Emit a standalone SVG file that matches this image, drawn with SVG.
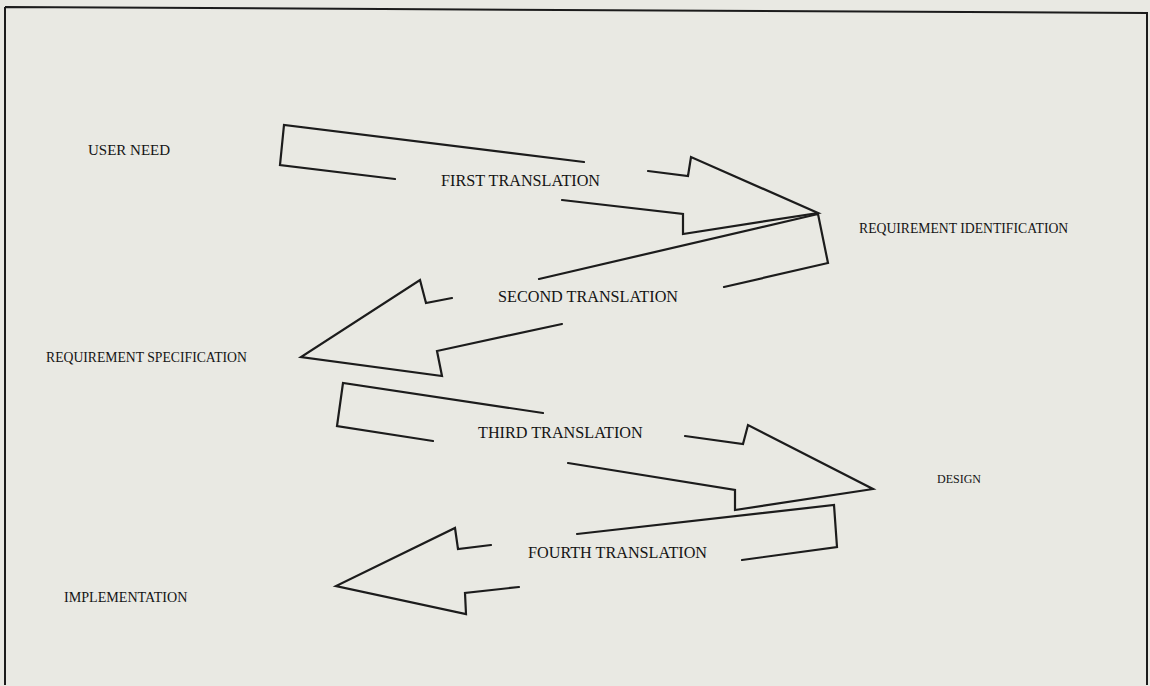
<svg xmlns="http://www.w3.org/2000/svg" width="1150" height="686" viewBox="0 0 1150 686">
<style>
.bg{fill:#e9e9e3}
.frame{fill:none;stroke:#1c1c1c;stroke-width:2}
.arr{fill:none;stroke:#1c1c1c;stroke-width:2.2;stroke-linejoin:miter;stroke-linecap:round}
.lbl{font-family:"Liberation Serif","Times New Roman",serif;fill:#141414}
.t{font-size:16.2px}
.n{font-size:13.7px}
</style>
<rect class="bg" x="0" y="0" width="1150" height="686"/>
<path class="frame" d="M5,7 L1147,13 L1147,685 M5,7 L5,685"/>
<g id="connectors">
<path class="arr" d="M584,162 L284,125 L280,165 L395,179"/>
<path class="arr" d="M648,171 L688,176 L691,157 L818,213 L683,234 L683,214 L562,200"/>
<path class="arr" d="M539,279 L818,214 L828,263 L724,287"/>
<path class="arr" d="M452,298 L426,303 L420,280 L301,357 L442,376 L437,351 L562,324"/>
<path class="arr" d="M543,413 L343,383 L337,426 L433,441"/>
<path class="arr" d="M685,436 L743,444 L748,425 L873,489 L735,510 L735,490 L568,463"/>
<path class="arr" d="M577,534 L834,505 L837,547 L742,560"/>
<path class="arr" d="M491,545 L458,549 L455,528 L336,586 L466,614 L465,593 L519,587"/>
</g>
<g id="user-need"><text class="lbl" style="font-size:15px" x="88" y="155">USER NEED</text></g>
<g id="first-translation"><text class="lbl t" x="441" y="186">FIRST TRANSLATION</text></g>
<g id="requirement-identification"><text class="lbl n" x="859" y="233">REQUIREMENT IDENTIFICATION</text></g>
<g id="second-translation"><text class="lbl t" x="498" y="302">SECOND TRANSLATION</text></g>
<g id="requirement-specification"><text class="lbl n" x="46" y="362">REQUIREMENT SPECIFICATION</text></g>
<g id="third-translation"><text class="lbl t" x="478" y="438">THIRD TRANSLATION</text></g>
<g id="design"><text class="lbl" style="font-size:12px" x="937" y="483">DESIGN</text></g>
<g id="fourth-translation"><text class="lbl t" x="528" y="558">FOURTH TRANSLATION</text></g>
<g id="implementation"><text class="lbl" style="font-size:14.1px" x="64" y="602">IMPLEMENTATION</text></g>
</svg>
